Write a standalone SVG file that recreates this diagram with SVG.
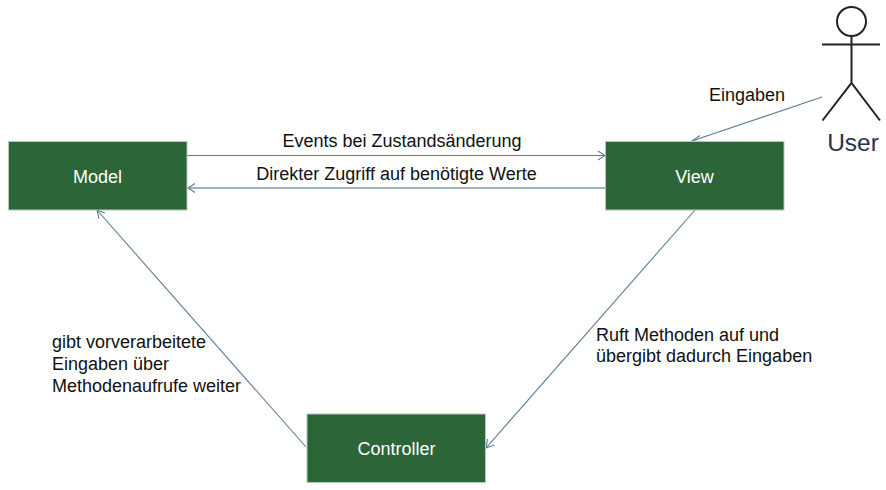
<svg xmlns="http://www.w3.org/2000/svg" width="886" height="490" viewBox="0 0 886 490">
<style>
.box{fill:#2c6537;stroke:#b5c9b9;stroke-width:1}
.nt{font:18px "Liberation Sans",Arial,sans-serif;fill:#fff;text-anchor:middle}
.t{font:18px "Liberation Sans",Arial,sans-serif;fill:#111}
.c{fill:none;stroke:#5b7d96;stroke-width:1.1}
.h{fill:none;stroke:#5b7d96;stroke-width:1.1}
.a{fill:none;stroke:#222;stroke-width:2}
</style>
<rect width="886" height="490" fill="#fff"/>
<g id="connectors">
<path class="c" d="M187 155.500H605"/><path class="h" d="M598 151L605 155.500L598 160"/>
<path class="c" style="stroke-width:1.600;stroke:#7f98aa" d="M605 188H188"/><path class="h" d="M195 183.500L188 188L195 192.500"/>
<path class="c" d="M695 210L486 448"/><path class="h" d="M487.500 439L486 448L494.500 445"/>
<path class="c" d="M306 447L97 210"/><path class="h" d="M105 213L97 210L99 218.500"/>
<path class="c" d="M822 97L692 141"/><path class="h" d="M700 135.500L692 141L701 141.500"/>
</g>
<g id="model"><rect class="box" x="8.500" y="141.500" width="178.500" height="68.500"/><text class="nt" x="97.500" y="182.500">Model</text></g>
<g id="view"><rect class="box" x="605.500" y="141.500" width="178.500" height="68.500"/><text class="nt" x="694.500" y="182.500">View</text></g>
<g id="controller"><rect class="box" x="307" y="414" width="178.500" height="68.500"/><text class="nt" x="396.500" y="455">Controller</text></g>
<g id="user">
<circle class="a" cx="851.500" cy="21.500" r="14.500"/>
<path class="a" d="M822 44.500H880M851.500 36V83M822.500 120.500L851.500 83L880 120.500"/>
<text x="853" y="151" font-family="'Liberation Sans',Arial,sans-serif" font-size="24.500" fill="#27304f" text-anchor="middle">User</text>
</g>
<g id="labels">
<text class="t" x="402" y="147" text-anchor="middle">Events bei Zustandsänderung</text>
<text class="t" x="396.500" y="180" text-anchor="middle">Direkter Zugriff auf benötigte Werte</text>
<text class="t" x="709" y="101">Eingaben</text>
<text class="t" x="52" y="348">gibt vorverarbeitete</text>
<text class="t" x="52" y="370">Eingaben über</text>
<text class="t" x="52" y="392">Methodenaufrufe weiter</text>
<text class="t" x="596" y="341">Ruft Methoden auf und</text>
<text class="t" x="596" y="362">übergibt dadurch Eingaben</text>
</g>
</svg>
